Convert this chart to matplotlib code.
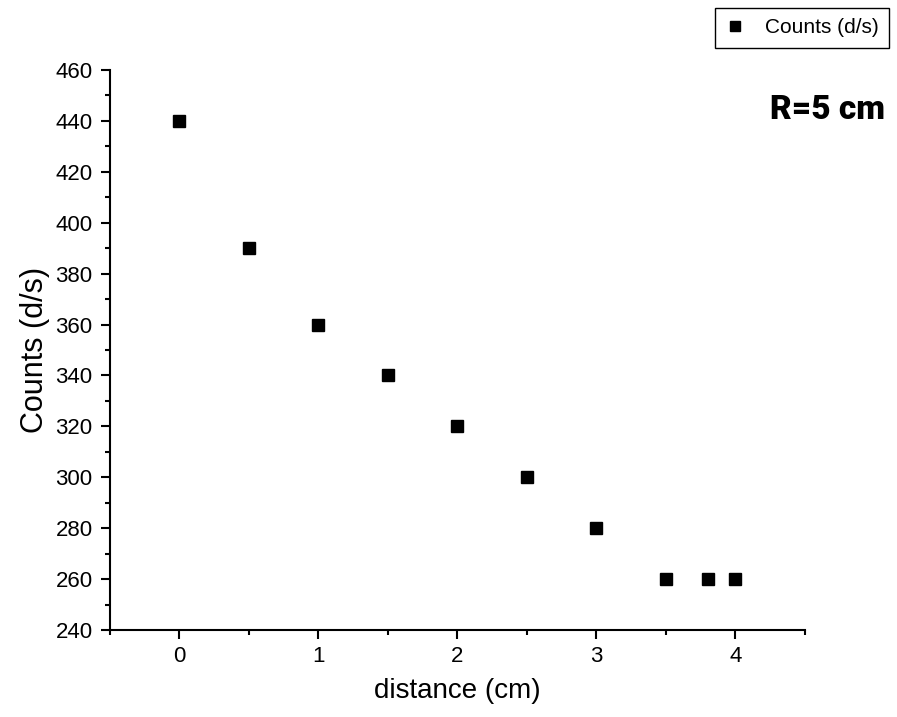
import numpy as np
import matplotlib
matplotlib.use("Agg")
import matplotlib.pyplot as plt
from matplotlib.ticker import MultipleLocator

plt.rcParams['font.family'] = ['Liberation Sans', 'DejaVu Sans']

distance = [0, 0.5, 1, 1.5, 2, 2.5, 3, 3.5, 3.8, 4]
counts = [440, 390, 360, 340, 320, 300, 280, 260, 260, 260]

fig = plt.figure(figsize=(8.97, 7.17), dpi=100)
ax = fig.add_axes([0.1226, 0.1213, 0.7748, 0.7811])

ax.plot(distance, counts, 's', color='k', markersize=8.5, linestyle='none',
        label='Counts (d/s)')

ax.set_xlim(-0.5, 4.5)
ax.set_ylim(240, 460)
ax.xaxis.set_major_locator(MultipleLocator(1))
ax.xaxis.set_minor_locator(MultipleLocator(0.5))
ax.yaxis.set_major_locator(MultipleLocator(20))
ax.yaxis.set_minor_locator(MultipleLocator(10))

for s in ['top', 'right']:
    ax.spines[s].set_visible(False)
for s in ['left', 'bottom']:
    ax.spines[s].set_linewidth(1.5)

ax.tick_params(which='major', direction='out', length=6.5, width=1.5, labelsize=16)
ax.tick_params(axis='y', which='major', pad=6)
ax.tick_params(axis='x', which='major', pad=5)
ax.tick_params(which='minor', direction='out', length=3.6, width=1.5)

ax.set_xlabel('distance (cm)', fontsize=20, labelpad=8)
ax.set_ylabel('Counts (d/s)', fontsize=22, labelpad=4)

fig.text(0.987, 0.847, 'R=5 cm', ha='right', va='center', fontsize=24,
         fontweight='black', family=['Roboto', 'DejaVu Sans'])

leg = fig.legend(loc='upper right', bbox_to_anchor=(0.991, 0.989), fontsize=15,
                 frameon=True, fancybox=False, framealpha=1, borderpad=0.5,
                 handletextpad=1.0, handlelength=0.9, markerscale=0.85,
                 borderaxespad=0)
leg.get_frame().set_edgecolor('k')
leg.get_frame().set_linewidth(1.0)

fig.savefig('out.png', dpi=100)
